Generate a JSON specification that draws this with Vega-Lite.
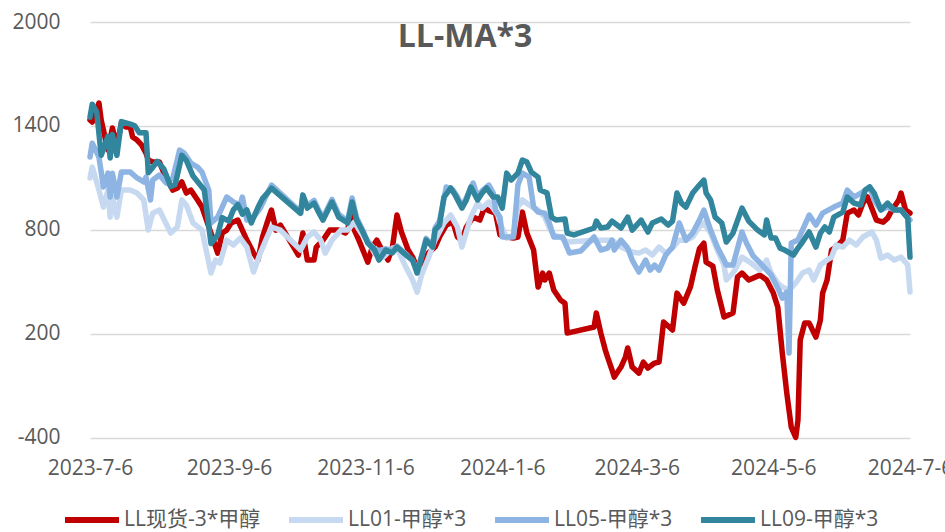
{
"$schema": "https://vega.github.io/schema/vega-lite/v6.json",
"width": 820, "height": 415.5,
"autosize": {"type": "none"},
"padding": {"left": 90, "top": 22, "right": 35, "bottom": 94.5},
"background": "white",
"title": {"text": "LL-MA*3", "font": "Open Sans", "fontSize": 32, "fontWeight": "bold", "color": "#595959", "anchor": "middle", "frame": "group", "baseline": "alphabetic", "dx": -35, "dy": 68, "offset": 0},
"datasets": {
"R": [
{"d":"2023-07-06","v":1434},{"d":"2023-07-07","v":1422},{"d":"2023-07-10","v":1532},{"d":"2023-07-11","v":1434},{"d":"2023-07-13","v":1318},{"d":"2023-07-14","v":1261},{"d":"2023-07-16","v":1388},{"d":"2023-07-18","v":1278},{"d":"2023-07-20","v":1417},{"d":"2023-07-22","v":1393},{"d":"2023-07-24","v":1393},{"d":"2023-07-25","v":1336},{"d":"2023-07-27","v":1318},{"d":"2023-07-29","v":1290},{"d":"2023-07-31","v":1243},{"d":"2023-08-01","v":1203},{"d":"2023-08-03","v":1191},{"d":"2023-08-06","v":1191},{"d":"2023-08-08","v":1127},{"d":"2023-08-12","v":1029},{"d":"2023-08-14","v":1041},{"d":"2023-08-16","v":1076},{"d":"2023-08-18","v":1012},{"d":"2023-08-20","v":1029},{"d":"2023-08-23","v":972},{"d":"2023-08-25","v":931},{"d":"2023-08-29","v":781},{"d":"2023-09-01","v":665},{"d":"2023-09-03","v":781},{"d":"2023-09-05","v":798},{"d":"2023-09-07","v":839},{"d":"2023-09-10","v":856},{"d":"2023-09-12","v":798},{"d":"2023-09-14","v":740},{"d":"2023-09-17","v":665},{"d":"2023-09-19","v":625},{"d":"2023-09-21","v":758},{"d":"2023-09-23","v":839},{"d":"2023-09-25","v":914},{"d":"2023-09-27","v":798},{"d":"2023-09-29","v":827},{"d":"2023-10-07","v":654},{"d":"2023-10-09","v":781},{"d":"2023-10-11","v":625},{"d":"2023-10-14","v":625},{"d":"2023-10-15","v":700},{"d":"2023-10-18","v":740},{"d":"2023-10-21","v":798},{"d":"2023-10-25","v":798},{"d":"2023-10-28","v":781},{"d":"2023-10-29","v":798},{"d":"2023-10-31","v":931},{"d":"2023-11-01","v":798},{"d":"2023-11-03","v":740},{"d":"2023-11-07","v":613},{"d":"2023-11-09","v":700},{"d":"2023-11-11","v":740},{"d":"2023-11-14","v":665},{"d":"2023-11-16","v":625},{"d":"2023-11-18","v":700},{"d":"2023-11-20","v":885},{"d":"2023-11-22","v":787},{"d":"2023-11-25","v":683},{"d":"2023-11-27","v":642},{"d":"2023-11-29","v":579},{"d":"2023-12-02","v":625},{"d":"2023-12-04","v":665},{"d":"2023-12-07","v":700},{"d":"2023-12-09","v":758},{"d":"2023-12-12","v":827},{"d":"2023-12-15","v":844},{"d":"2023-12-17","v":758},{"d":"2023-12-19","v":740},{"d":"2023-12-21","v":816},{"d":"2023-12-24","v":873},{"d":"2023-12-27","v":856},{"d":"2023-12-29","v":925},{"d":"2023-12-31","v":910},{"d":"2024-01-03","v":896},{"d":"2024-01-05","v":770},{"d":"2024-01-08","v":758},{"d":"2024-01-11","v":752},{"d":"2024-01-13","v":758},{"d":"2024-01-15","v":902},{"d":"2024-01-17","v":781},{"d":"2024-01-20","v":683},{"d":"2024-01-22","v":469},{"d":"2024-01-24","v":550},{"d":"2024-01-25","v":510},{"d":"2024-01-27","v":550},{"d":"2024-01-29","v":452},{"d":"2024-02-01","v":394},{"d":"2024-02-03","v":376},{"d":"2024-02-04","v":203},{"d":"2024-02-16","v":238},{"d":"2024-02-17","v":319},{"d":"2024-02-19","v":203},{"d":"2024-02-21","v":105},{"d":"2024-02-22","v":65},{"d":"2024-02-24","v":-10},{"d":"2024-02-25","v":-51},{"d":"2024-02-28","v":7},{"d":"2024-03-01","v":65},{"d":"2024-03-02","v":117},{"d":"2024-03-04","v":7},{"d":"2024-03-07","v":-28},{"d":"2024-03-09","v":36},{"d":"2024-03-11","v":1},{"d":"2024-03-14","v":30},{"d":"2024-03-16","v":36},{"d":"2024-03-18","v":267},{"d":"2024-03-22","v":221},{"d":"2024-03-24","v":434},{"d":"2024-03-27","v":376},{"d":"2024-03-30","v":470},{"d":"2024-04-01","v":584},{"d":"2024-04-03","v":690},{"d":"2024-04-05","v":723},{"d":"2024-04-06","v":613},{"d":"2024-04-09","v":590},{"d":"2024-04-11","v":452},{"d":"2024-04-14","v":296},{"d":"2024-04-18","v":319},{"d":"2024-04-20","v":527},{"d":"2024-04-22","v":550},{"d":"2024-04-25","v":510},{"d":"2024-04-30","v":538},{"d":"2024-05-03","v":510},{"d":"2024-05-06","v":434},{"d":"2024-05-08","v":353},{"d":"2024-05-10","v":88},{"d":"2024-05-12","v":-143},{"d":"2024-05-14","v":-340},{"d":"2024-05-16","v":-400},{"d":"2024-05-17","v":-299},{"d":"2024-05-18","v":163},{"d":"2024-05-20","v":261},{"d":"2024-05-22","v":261},{"d":"2024-05-25","v":180},{"d":"2024-05-27","v":278},{"d":"2024-05-28","v":434},{"d":"2024-05-30","v":510},{"d":"2024-06-01","v":683},{"d":"2024-06-03","v":700},{"d":"2024-06-06","v":740},{"d":"2024-06-08","v":896},{"d":"2024-06-11","v":914},{"d":"2024-06-13","v":885},{"d":"2024-06-15","v":954},{"d":"2024-06-17","v":989},{"d":"2024-06-21","v":856},{"d":"2024-06-24","v":844},{"d":"2024-06-26","v":867},{"d":"2024-06-28","v":914},{"d":"2024-07-01","v":972},{"d":"2024-07-02","v":1012},{"d":"2024-07-04","v":914},{"d":"2024-07-06","v":896}
],
"A": [
{"d":"2023-07-06","v":1099},{"d":"2023-07-07","v":1162},{"d":"2023-07-10","v":1029},{"d":"2023-07-12","v":931},{"d":"2023-07-14","v":1029},{"d":"2023-07-15","v":873},{"d":"2023-07-16","v":989},{"d":"2023-07-18","v":873},{"d":"2023-07-20","v":1029},{"d":"2023-07-24","v":1029},{"d":"2023-07-27","v":1012},{"d":"2023-07-30","v":972},{"d":"2023-08-01","v":798},{"d":"2023-08-03","v":896},{"d":"2023-08-06","v":914},{"d":"2023-08-11","v":781},{"d":"2023-08-14","v":816},{"d":"2023-08-16","v":972},{"d":"2023-08-18","v":943},{"d":"2023-08-21","v":839},{"d":"2023-08-25","v":798},{"d":"2023-08-29","v":550},{"d":"2023-08-31","v":625},{"d":"2023-09-02","v":608},{"d":"2023-09-05","v":740},{"d":"2023-09-08","v":712},{"d":"2023-09-11","v":752},{"d":"2023-09-14","v":700},{"d":"2023-09-17","v":556},{"d":"2023-09-20","v":665},{"d":"2023-09-25","v":816},{"d":"2023-09-29","v":798},{"d":"2023-10-08","v":683},{"d":"2023-10-11","v":758},{"d":"2023-10-14","v":787},{"d":"2023-10-17","v":740},{"d":"2023-10-19","v":665},{"d":"2023-10-22","v":740},{"d":"2023-10-26","v":798},{"d":"2023-10-29","v":798},{"d":"2023-11-01","v":844},{"d":"2023-11-04","v":781},{"d":"2023-11-07","v":740},{"d":"2023-11-10","v":665},{"d":"2023-11-14","v":642},{"d":"2023-11-18","v":694},{"d":"2023-11-20","v":694},{"d":"2023-11-24","v":584},{"d":"2023-11-27","v":510},{"d":"2023-11-29","v":440},{"d":"2023-12-01","v":538},{"d":"2023-12-04","v":636},{"d":"2023-12-07","v":740},{"d":"2023-12-11","v":839},{"d":"2023-12-14","v":885},{"d":"2023-12-17","v":816},{"d":"2023-12-19","v":700},{"d":"2023-12-23","v":873},{"d":"2023-12-26","v":954},{"d":"2023-12-28","v":925},{"d":"2023-12-31","v":960},{"d":"2024-01-04","v":885},{"d":"2024-01-05","v":839},{"d":"2024-01-08","v":752},{"d":"2024-01-11","v":770},{"d":"2024-01-13","v":931},{"d":"2024-01-15","v":972},{"d":"2024-01-18","v":943},{"d":"2024-01-22","v":914},{"d":"2024-01-25","v":873},{"d":"2024-01-27","v":810},{"d":"2024-01-29","v":770},{"d":"2024-02-01","v":758},{"d":"2024-02-04","v":729},{"d":"2024-02-16","v":740},{"d":"2024-02-21","v":740},{"d":"2024-02-24","v":740},{"d":"2024-02-28","v":700},{"d":"2024-03-02","v":683},{"d":"2024-03-04","v":671},{"d":"2024-03-07","v":665},{"d":"2024-03-10","v":683},{"d":"2024-03-13","v":654},{"d":"2024-03-16","v":700},{"d":"2024-03-19","v":665},{"d":"2024-03-22","v":694},{"d":"2024-03-25","v":740},{"d":"2024-03-28","v":740},{"d":"2024-03-31","v":758},{"d":"2024-04-03","v":816},{"d":"2024-04-05","v":839},{"d":"2024-04-08","v":781},{"d":"2024-04-11","v":683},{"d":"2024-04-14","v":596},{"d":"2024-04-15","v":510},{"d":"2024-04-18","v":550},{"d":"2024-04-22","v":642},{"d":"2024-04-26","v":608},{"d":"2024-04-30","v":567},{"d":"2024-05-03","v":625},{"d":"2024-05-05","v":550},{"d":"2024-05-08","v":492},{"d":"2024-05-10","v":469},{"d":"2024-05-13","v":452},{"d":"2024-05-16","v":492},{"d":"2024-05-19","v":550},{"d":"2024-05-22","v":567},{"d":"2024-05-24","v":510},{"d":"2024-05-27","v":596},{"d":"2024-05-30","v":625},{"d":"2024-06-01","v":642},{"d":"2024-06-03","v":712},{"d":"2024-06-06","v":700},{"d":"2024-06-09","v":740},{"d":"2024-06-12","v":712},{"d":"2024-06-15","v":758},{"d":"2024-06-19","v":787},{"d":"2024-06-21","v":740},{"d":"2024-06-23","v":636},{"d":"2024-06-26","v":654},{"d":"2024-06-29","v":625},{"d":"2024-07-02","v":642},{"d":"2024-07-05","v":596},{"d":"2024-07-06","v":440}
],
"B": [
{"d":"2023-07-06","v":1220},{"d":"2023-07-07","v":1300},{"d":"2023-07-10","v":1220},{"d":"2023-07-12","v":1047},{"d":"2023-07-14","v":1127},{"d":"2023-07-15","v":989},{"d":"2023-07-16","v":1127},{"d":"2023-07-18","v":989},{"d":"2023-07-20","v":1133},{"d":"2023-07-24","v":1133},{"d":"2023-07-27","v":1099},{"d":"2023-07-30","v":1076},{"d":"2023-07-31","v":1104},{"d":"2023-08-02","v":972},{"d":"2023-08-03","v":1087},{"d":"2023-08-06","v":1116},{"d":"2023-08-09","v":1070},{"d":"2023-08-12","v":1099},{"d":"2023-08-15","v":1260},{"d":"2023-08-17","v":1243},{"d":"2023-08-20","v":1185},{"d":"2023-08-23","v":1162},{"d":"2023-08-25","v":1133},{"d":"2023-08-28","v":1029},{"d":"2023-08-29","v":839},{"d":"2023-09-01","v":873},{"d":"2023-09-03","v":931},{"d":"2023-09-05","v":989},{"d":"2023-09-08","v":960},{"d":"2023-09-11","v":943},{"d":"2023-09-12","v":989},{"d":"2023-09-14","v":856},{"d":"2023-09-17","v":873},{"d":"2023-09-20","v":925},{"d":"2023-09-25","v":1058},{"d":"2023-10-08","v":902},{"d":"2023-10-09","v":1000},{"d":"2023-10-11","v":940},{"d":"2023-10-14","v":970},{"d":"2023-10-16","v":915},{"d":"2023-10-18","v":870},{"d":"2023-10-22","v":975},{"d":"2023-10-25","v":890},{"d":"2023-10-29","v":850},{"d":"2023-10-31","v":983},{"d":"2023-11-02","v":870},{"d":"2023-11-05","v":790},{"d":"2023-11-07","v":730},{"d":"2023-11-10","v":690},{"d":"2023-11-12","v":680},{"d":"2023-11-15","v":690},{"d":"2023-11-18","v":680},{"d":"2023-11-20","v":705},{"d":"2023-11-24","v":660},{"d":"2023-11-27","v":620},{"d":"2023-11-29","v":567},{"d":"2023-12-01","v":650},{"d":"2023-12-03","v":750},{"d":"2023-12-06","v":710},{"d":"2023-12-07","v":810},{"d":"2023-12-09","v":850},{"d":"2023-12-12","v":1047},{"d":"2023-12-15","v":1030},{"d":"2023-12-17","v":990},{"d":"2023-12-19","v":935},{"d":"2023-12-21","v":985},{"d":"2023-12-24","v":1070},{"d":"2023-12-26","v":990},{"d":"2023-12-28","v":1025},{"d":"2023-12-31","v":1058},{"d":"2024-01-02","v":1012},{"d":"2024-01-03","v":914},{"d":"2024-01-05","v":873},{"d":"2024-01-06","v":758},{"d":"2024-01-11","v":758},{"d":"2024-01-13","v":1058},{"d":"2024-01-15","v":1127},{"d":"2024-01-18","v":1104},{"d":"2024-01-20","v":931},{"d":"2024-01-22","v":902},{"d":"2024-01-25","v":896},{"d":"2024-01-27","v":839},{"d":"2024-01-29","v":758},{"d":"2024-02-02","v":758},{"d":"2024-02-05","v":666},{"d":"2024-02-10","v":677},{"d":"2024-02-16","v":758},{"d":"2024-02-19","v":683},{"d":"2024-02-22","v":694},{"d":"2024-02-24","v":740},{"d":"2024-02-25","v":683},{"d":"2024-02-28","v":740},{"d":"2024-03-02","v":694},{"d":"2024-03-04","v":625},{"d":"2024-03-07","v":556},{"d":"2024-03-10","v":625},{"d":"2024-03-12","v":567},{"d":"2024-03-14","v":596},{"d":"2024-03-16","v":567},{"d":"2024-03-19","v":654},{"d":"2024-03-22","v":700},{"d":"2024-03-25","v":839},{"d":"2024-03-28","v":740},{"d":"2024-03-31","v":781},{"d":"2024-04-03","v":856},{"d":"2024-04-05","v":914},{"d":"2024-04-08","v":798},{"d":"2024-04-11","v":700},{"d":"2024-04-14","v":625},{"d":"2024-04-15","v":596},{"d":"2024-04-18","v":596},{"d":"2024-04-22","v":787},{"d":"2024-04-24","v":723},{"d":"2024-04-27","v":648},{"d":"2024-05-01","v":596},{"d":"2024-05-05","v":539},{"d":"2024-05-08","v":463},{"d":"2024-05-10","v":405},{"d":"2024-05-12","v":440},{"d":"2024-05-13","v":88},{"d":"2024-05-14","v":723},{"d":"2024-05-17","v":740},{"d":"2024-05-20","v":827},{"d":"2024-05-22","v":885},{"d":"2024-05-25","v":827},{"d":"2024-05-28","v":896},{"d":"2024-06-02","v":931},{"d":"2024-06-06","v":954},{"d":"2024-06-08","v":1029},{"d":"2024-06-11","v":989},{"d":"2024-06-15","v":1018},{"d":"2024-06-18","v":1047},{"d":"2024-06-20","v":972},{"d":"2024-06-23","v":914},{"d":"2024-06-26","v":931},{"d":"2024-06-29","v":914},{"d":"2024-07-02","v":914},{"d":"2024-07-06","v":856}
],
"C": [
{"d":"2023-07-06","v":1450},{"d":"2023-07-07","v":1525},{"d":"2023-07-09","v":1480},{"d":"2023-07-11","v":1230},{"d":"2023-07-14","v":1340},{"d":"2023-07-15","v":1215},{"d":"2023-07-16","v":1350},{"d":"2023-07-18","v":1230},{"d":"2023-07-20","v":1425},{"d":"2023-07-24","v":1410},{"d":"2023-07-26","v":1400},{"d":"2023-07-28","v":1360},{"d":"2023-07-31","v":1360},{"d":"2023-08-01","v":1130},{"d":"2023-08-03","v":1160},{"d":"2023-08-05","v":1195},{"d":"2023-08-08","v":1150},{"d":"2023-08-11","v":1050},{"d":"2023-08-13","v":1060},{"d":"2023-08-16","v":1230},{"d":"2023-08-18","v":1200},{"d":"2023-08-21","v":1110},{"d":"2023-08-26","v":1030},{"d":"2023-08-29","v":720},{"d":"2023-09-01","v":770},{"d":"2023-09-03","v":870},{"d":"2023-09-06","v":850},{"d":"2023-09-08","v":915},{"d":"2023-09-10","v":945},{"d":"2023-09-12","v":890},{"d":"2023-09-14","v":915},{"d":"2023-09-16","v":840},{"d":"2023-09-19","v":930},{"d":"2023-09-21","v":980},{"d":"2023-09-25","v":1040},{"d":"2023-10-08","v":895},{"d":"2023-10-09","v":1000},{"d":"2023-10-11","v":925},{"d":"2023-10-14","v":954},{"d":"2023-10-16","v":902},{"d":"2023-10-18","v":856},{"d":"2023-10-22","v":960},{"d":"2023-10-25","v":873},{"d":"2023-10-29","v":839},{"d":"2023-10-31","v":960},{"d":"2023-11-02","v":856},{"d":"2023-11-05","v":781},{"d":"2023-11-07","v":723},{"d":"2023-11-10","v":683},{"d":"2023-11-12","v":625},{"d":"2023-11-15","v":683},{"d":"2023-11-18","v":666},{"d":"2023-11-20","v":700},{"d":"2023-11-24","v":654},{"d":"2023-11-27","v":625},{"d":"2023-11-29","v":550},{"d":"2023-12-01","v":642},{"d":"2023-12-03","v":740},{"d":"2023-12-06","v":700},{"d":"2023-12-07","v":798},{"d":"2023-12-09","v":827},{"d":"2023-12-11","v":989},{"d":"2023-12-14","v":1041},{"d":"2023-12-16","v":1000},{"d":"2023-12-19","v":925},{"d":"2023-12-21","v":972},{"d":"2023-12-23","v":1047},{"d":"2023-12-26","v":972},{"d":"2023-12-28","v":1012},{"d":"2023-12-30","v":1041},{"d":"2024-01-02","v":989},{"d":"2024-01-04","v":989},{"d":"2024-01-06","v":925},{"d":"2024-01-08","v":1127},{"d":"2024-01-10","v":1087},{"d":"2024-01-13","v":1127},{"d":"2024-01-15","v":1203},{"d":"2024-01-17","v":1191},{"d":"2024-01-19","v":1133},{"d":"2024-01-22","v":1104},{"d":"2024-01-23","v":1029},{"d":"2024-01-26","v":1012},{"d":"2024-01-28","v":873},{"d":"2024-01-30","v":856},{"d":"2024-02-03","v":862},{"d":"2024-02-04","v":781},{"d":"2024-02-07","v":770},{"d":"2024-02-16","v":810},{"d":"2024-02-17","v":850},{"d":"2024-02-19","v":810},{"d":"2024-02-22","v":816},{"d":"2024-02-24","v":850},{"d":"2024-02-28","v":810},{"d":"2024-03-02","v":873},{"d":"2024-03-04","v":798},{"d":"2024-03-08","v":856},{"d":"2024-03-11","v":787},{"d":"2024-03-13","v":839},{"d":"2024-03-17","v":862},{"d":"2024-03-20","v":827},{"d":"2024-03-22","v":850},{"d":"2024-03-24","v":1012},{"d":"2024-03-26","v":954},{"d":"2024-03-28","v":931},{"d":"2024-03-31","v":1012},{"d":"2024-04-03","v":1058},{"d":"2024-04-05","v":1087},{"d":"2024-04-06","v":1012},{"d":"2024-04-08","v":972},{"d":"2024-04-10","v":873},{"d":"2024-04-13","v":839},{"d":"2024-04-15","v":729},{"d":"2024-04-18","v":781},{"d":"2024-04-22","v":925},{"d":"2024-04-25","v":850},{"d":"2024-04-29","v":798},{"d":"2024-05-02","v":770},{"d":"2024-05-03","v":856},{"d":"2024-05-05","v":752},{"d":"2024-05-07","v":752},{"d":"2024-05-09","v":694},{"d":"2024-05-11","v":683},{"d":"2024-05-15","v":654},{"d":"2024-05-17","v":694},{"d":"2024-05-19","v":729},{"d":"2024-05-22","v":787},{"d":"2024-05-25","v":700},{"d":"2024-05-27","v":781},{"d":"2024-05-29","v":816},{"d":"2024-05-31","v":787},{"d":"2024-06-02","v":873},{"d":"2024-06-06","v":902},{"d":"2024-06-08","v":989},{"d":"2024-06-11","v":954},{"d":"2024-06-14","v":943},{"d":"2024-06-16","v":1029},{"d":"2024-06-18","v":1047},{"d":"2024-06-20","v":1012},{"d":"2024-06-23","v":914},{"d":"2024-06-26","v":954},{"d":"2024-06-29","v":914},{"d":"2024-07-02","v":914},{"d":"2024-07-05","v":867},{"d":"2024-07-06","v":642}
]
},
"layer": [
{"data": {"name": "R"}, "mark": {"type": "line", "strokeWidth": 5.5, "strokeJoin": "round", "strokeCap": "round"}, "encoding": {"color": {"datum": "LL现货-3*甲醇"}}},
{"data": {"name": "A"}, "mark": {"type": "line", "strokeWidth": 5.5, "strokeJoin": "round", "strokeCap": "round"}, "encoding": {"color": {"datum": "LL01-甲醇*3"}}},
{"data": {"name": "B"}, "mark": {"type": "line", "strokeWidth": 5.5, "strokeJoin": "round", "strokeCap": "round"}, "encoding": {"color": {"datum": "LL05-甲醇*3"}}},
{"data": {"name": "C"}, "mark": {"type": "line", "strokeWidth": 5.5, "strokeJoin": "round", "strokeCap": "round"}, "encoding": {"color": {"datum": "LL09-甲醇*3"}}}
],
"encoding": {
 "x": {"field": "d", "type": "temporal",
  "scale": {"type": "utc", "domain": [{"year": 2023, "month": 7, "date": 6, "utc": true}, {"year": 2024, "month": 7, "date": 6, "utc": true}]},
  "axis": {"title": null, "grid": false, "domain": false, "ticks": false, "labelPadding": 20, "labelExpr": "utcFormat(datum.value, '%Y-%-m-%-d')",
   "values": [{"year": 2023, "month": 7, "date": 6, "utc": true}, {"year": 2023, "month": 9, "date": 6, "utc": true}, {"year": 2023, "month": 11, "date": 6, "utc": true}, {"year": 2024, "month": 1, "date": 6, "utc": true}, {"year": 2024, "month": 3, "date": 6, "utc": true}, {"year": 2024, "month": 5, "date": 6, "utc": true}, {"year": 2024, "month": 7, "date": 6, "utc": true}],
   "labelOverlap": false, "labelBound": false, "labelFlush": false, "labelFont": "Open Sans", "labelFontSize": 21, "labelColor": "#595959"}},
 "y": {"field": "v", "type": "quantitative",
  "scale": {"domain": [-400, 2000], "nice": false, "zero": false},
  "axis": {"title": null, "values": [-400, 200, 800, 1400, 2000], "labelExpr": "'' + datum.value", "grid": true, "gridColor": "#d9d9d9", "gridWidth": 1.5, "domain": false, "ticks": false, "labelPadding": 30, "labelFont": "Open Sans", "labelFontSize": 21, "labelColor": "#595959"}},
 "color": {"type": "nominal",
  "scale": {"domain": ["LL现货-3*甲醇", "LL01-甲醇*3", "LL05-甲醇*3", "LL09-甲醇*3"], "range": ["#C00000", "#C6D9F1", "#8DB4E2", "#31859C"]},
  "legend": {"orient": "none", "legendX": -28, "legendY": 468, "direction": "horizontal", "title": null, "symbolType": "stroke", "symbolSize": 2916, "symbolStrokeWidth": 6, "labelFont": "Open Sans, Noto Sans CJK SC", "labelFontSize": 21, "labelColor": "#595959", "labelOffset": 2, "columnPadding": 16, "padding": 0, "labelLimit": 300}}
},
"config": {"view": {"stroke": null}}
}
